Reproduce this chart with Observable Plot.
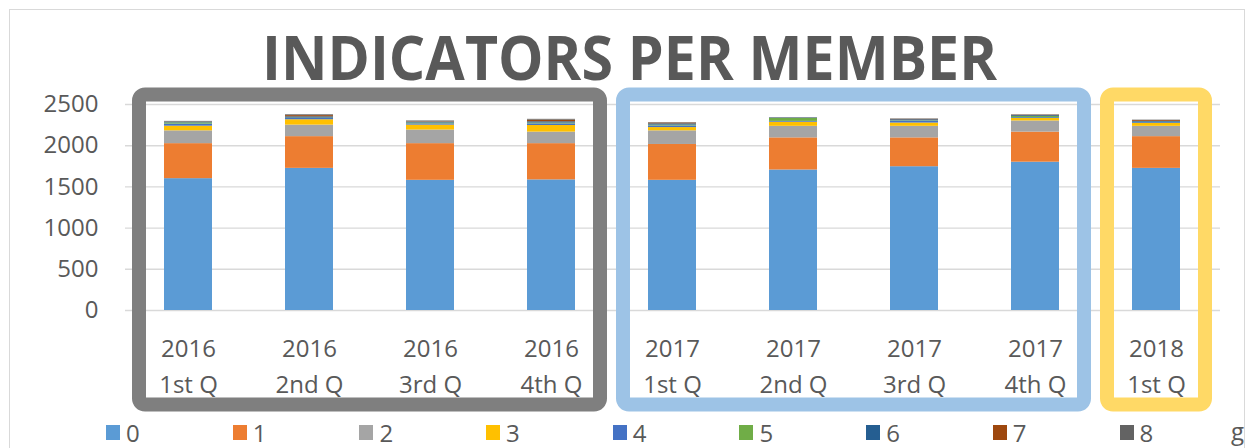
<!DOCTYPE html>
<html>
<head>
<meta charset="utf-8">
<script src="https://cdn.jsdelivr.net/npm/d3@7"></script>
<script src="https://cdn.jsdelivr.net/npm/@observablehq/plot@0.6"></script>
<style>
  html, body { margin: 0; padding: 0; background: #fff; }
  #wrap { position: relative; width: 1247px; height: 448px; overflow: hidden; font-family: 'Open Sans', sans-serif; }
  #frame { position: absolute; left: 9px; top: 9px; width: 1236px; height: 460px; border-left: 1.5px solid #d9d9d9; border-top: 1.5px solid #d9d9d9; border-right: 1.5px solid #d9d9d9; box-sizing: border-box; }
  #title { position: absolute; left: 0; top: 0; }
  #chart { position: absolute; left: 0; top: 85px; }
  #legend { position: absolute; left: 106px; top: 416px; }
  .lg-swatches { font-family: 'Open Sans', sans-serif !important; font-size: 24px !important; color: #595959; margin: 0 !important; }
  .lg-swatches-wrap { display: flex !important; flex-wrap: nowrap !important; align-items: center; min-height: 0 !important; }
  .lg-swatch { display: inline-flex !important; align-items: center; width: 126.7px; margin-right: 0 !important; }
  .lg-swatch > svg { margin-right: 6px !important; }
  #gcut { position: absolute; left: 1231px; top: 414px; font-size: 24px; color: #595959; font-family: 'Open Sans', sans-serif; }
</style>
</head>
<body>
<div id="wrap">
  <div id="frame"></div>
  <svg id="title" width="1247" height="100">
    <text x="629.5" y="80" text-anchor="middle" font-family="'Open Sans', sans-serif" font-weight="700" font-size="60" fill="#595959" textLength="735" lengthAdjust="spacingAndGlyphs">INDICATORS PER MEMBER</text>
  </svg>
  <div id="chart"></div>
  <div id="legend"></div>
  <div id="gcut">g</div>
</div>
<script>
// ---- data ----
const periods = ["2016\n1st Q", "2016\n2nd Q", "2016\n3rd Q", "2016\n4th Q",
                 "2017\n1st Q", "2017\n2nd Q", "2017\n3rd Q", "2017\n4th Q",
                 "2018\n1st Q"];
const indicators = ["0", "1", "2", "3", "4", "5", "6", "7", "8"];
const s0 = [1600, 1725, 1580, 1585, 1580, 1705, 1745, 1800, 1725];
const s1 = [425, 385, 445, 440, 435, 390, 350, 365, 385];
const s2 = [155, 140, 165, 140, 165, 140, 140, 135, 125];
const s3 = [57, 65, 60, 80, 40, 50, 40, 30, 35];
const s4 = [25, 15, 15, 20, 20, 10, 25, 10, 10];
const s5 = [15, 5, 10, 10, 10, 35, 5, 15, 5];
const s6 = [10, 15, 10, 15, 15, 5, 10, 10, 10];
const s7 = [3, 15, 5, 20, 10, 0, 5, 5, 10];
const s8 = [5, 10, 10, 10, 5, 5, 5, 5, 5];
const yTicks = [0, 500, 1000, 1500, 2000, 2500];
const groupFirst = ["2016\n1st Q", "2017\n1st Q", "2018\n1st Q"];
const groupLast = ["2016\n4th Q", "2017\n4th Q", "2018\n1st Q"];

// ---- styles ----
const colors = ["#5b9bd5", "#ed7d31", "#a5a5a5", "#ffc000", "#4472c4", "#70ad47", "#255e91", "#9e480e", "#636363"];
const groupColors = ["#7f7f7f", "#9dc3e6", "#ffd966"];

const series = [s0, s1, s2, s3, s4, s5, s6, s7, s8];
const data = [];
periods.forEach((p, i) => {
  indicators.forEach((ind, k) => {
    data.push({period: p, indicator: ind, value: series[k][i]});
  });
});

const plot = Plot.plot({
  width: 1247,
  height: 330,
  marginTop: 19,
  marginBottom: 105,
  marginLeft: 125,
  marginRight: 27,
  style: {fontFamily: "'Open Sans', sans-serif", color: "#595959", background: "transparent", overflow: "visible"},
  x: {domain: periods, paddingInner: 0.6, paddingOuter: 0.3, label: null, axis: null},
  y: {domain: [0, 2500], label: null, axis: null},
  color: {domain: indicators, range: colors},
  marks: [
    Plot.gridY(yTicks, {stroke: "#d9d9d9", strokeOpacity: 1, strokeWidth: 1.4}),
    Plot.barY(data, {x: "period", y: "value", fill: "indicator", order: indicators}),
    Plot.axisY(yTicks, {tickSize: 0, tickPadding: 27, fontSize: 24, label: null, fill: "#595959", tickFormat: d => String(d)}),
    Plot.axisX({tickSize: 0, tickPadding: 21, fontSize: 24, lineHeight: 1.5, label: null, fill: "#595959"})
  ]
});

document.getElementById("chart").appendChild(plot);

// group boxes derived from scales
const sx = plot.scale("x");
const sy = plot.scale("y");
const bw = sx.bandwidth;
const pad = 25;
const g = d3.select(plot).append("g");
groupFirst.forEach((f, i) => {
  const x1 = sx.apply(f) - pad;
  const x2 = sx.apply(groupLast[i]) + bw + pad;
  const y1 = sy.apply(2500) - 9.5;
  const y2 = sy.apply(0) + 94.5;
  g.append("rect")
    .attr("x", x1).attr("y", y1)
    .attr("width", x2 - x1).attr("height", y2 - y1)
    .attr("rx", 6).attr("ry", 6)
    .attr("fill", "none")
    .attr("stroke", groupColors[i])
    .attr("stroke-width", 14);
});

const legend = plot.legend("color", {swatchWidth: 14, swatchHeight: 15, className: "lg"});
document.getElementById("legend").appendChild(legend);
</script>
</body>
</html>
